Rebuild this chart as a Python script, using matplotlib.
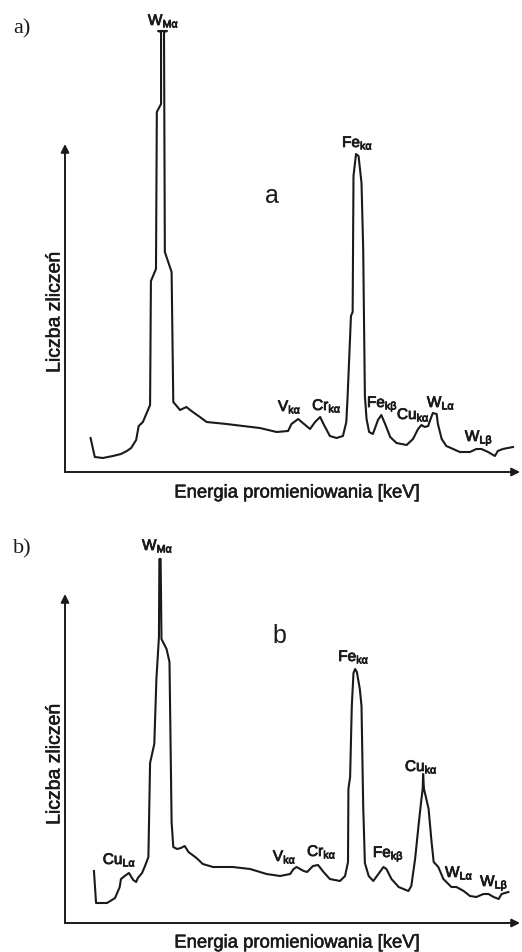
import matplotlib.pyplot as plt
import matplotlib.patheffects as pe

plt.rcParams['font.family'] = ['Liberation Sans', 'DejaVu Sans']
plt.rcParams['mathtext.default'] = 'regular'

# EDS spectra, energy in keV, counts in arbitrary units
energy_a = [0.13, 0.23, 0.42, 0.66, 0.85, 0.99, 1.09, 1.21, 1.27, 1.37, 1.46, 1.54,
            1.56, 1.68, 1.70, 1.80, 1.80, 1.73, 1.94, 1.87, 1.89, 2.05, 2.09, 2.17,
            2.25, 2.40, 2.52, 2.72, 2.88, 3.35, 3.74, 4.14, 4.54, 4.81, 4.89, 5.05,
            5.16, 5.33, 5.45, 5.57, 5.65, 5.80, 5.96, 6.11, 6.19, 6.22, 6.30, 6.34,
            6.36, 6.42, 6.48, 6.55, 6.59, 6.63, 6.67, 6.73, 6.82, 6.94, 7.02, 7.11,
            7.23, 7.38, 7.62, 7.77, 7.89, 7.97, 8.05, 8.13, 8.17, 8.24, 8.33, 8.36,
            8.45, 8.56, 8.72, 8.88, 9.12, 9.27, 9.39, 9.55, 9.71, 9.78, 9.90, 10.14]
counts_a = [34, 15, 14, 16, 18, 21, 24, 32, 46, 50, 59, 67,
            191, 203, 360, 368, 440, 441, 441, 440, 220, 200, 70, 66,
            62, 65, 61, 55, 50, 48, 46, 44, 40, 41, 48, 53,
            49, 43, 50, 55, 48, 36, 34, 36, 50, 75, 156, 160,
            296, 318, 316, 289, 223, 76, 53, 40, 38, 52, 57, 48,
            35, 29, 27, 33, 43, 47, 45, 46, 51, 59, 58, 48,
            33, 26, 23, 20, 20, 23, 23, 20, 16, 21, 23, 25]

energy_b = [0.21, 0.26, 0.52, 0.71, 0.82, 0.85, 0.97, 1.04, 1.14, 1.21, 1.25, 1.35,
            1.42, 1.50, 1.54, 1.64, 1.69, 1.75, 1.76, 1.79, 1.81, 1.93, 2.00, 2.05,
            2.09, 2.18, 2.27, 2.36, 2.45, 2.64, 2.79, 3.03, 3.50, 3.91, 4.30, 4.62,
            4.86, 4.94, 5.01, 5.18, 5.26, 5.40, 5.52, 5.65, 5.80, 6.04, 6.16, 6.23,
            6.24, 6.28, 6.32, 6.36, 6.40, 6.44, 6.51, 6.55, 6.59, 6.63, 6.72, 6.83,
            6.95, 7.07, 7.14, 7.26, 7.43, 7.66, 7.73, 7.82, 7.90, 7.97, 8.00, 8.01,
            8.03, 8.07, 8.14, 8.21, 8.26, 8.37, 8.49, 8.68, 8.80, 8.97, 9.12, 9.27,
            9.44, 9.56, 9.68, 9.80, 9.87, 10.03]
counts_b = [52, 20, 20, 25, 36, 44, 48, 50, 43, 41, 45, 50,
            57, 66, 160, 179, 244, 286, 364, 364, 284, 274, 261, 101,
            76, 74, 75, 77, 71, 65, 59, 56, 56, 54, 49, 47,
            49, 54, 56, 52, 51, 57, 58, 51, 44, 42, 47, 61,
            134, 146, 217, 250, 254, 251, 234, 217, 117, 60, 47, 42,
            49, 56, 54, 44, 36, 32, 37, 64, 97, 124, 134, 149,
            134, 127, 114, 81, 61, 56, 44, 36, 36, 32, 27, 26,
            29, 29, 26, 24, 29, 31]

# line labels: element, subscript, left edge [keV], baseline [counts]
labels_a = [('W', 'Mα', 1.49, 447), ('Fe', 'kα', 6.09, 325),
            ('V', 'kα', 4.57, 61), ('Cr', 'kα', 5.38, 62),
            ('Fe', 'kβ', 6.68, 65), ('Cu', 'kα', 7.39, 53),
            ('W', 'Lα', 8.10, 65), ('W', 'Lβ', 9.00, 31)]
labels_b = [('W', 'Mα', 1.35, 373), ('Fe', 'kα', 6.00, 262),
            ('Cu', 'kα', 7.58, 152), ('Cu', 'Lα', 0.42, 59),
            ('V', 'kα', 4.45, 62), ('Cr', 'kα', 5.26, 67),
            ('Fe', 'kβ', 6.82, 66), ('W', 'Lα', 8.53, 46),
            ('W', 'Lβ', 9.36, 37)]

INK = '#1a1a1a'
W, H = 522, 953
X_MIN, X_MAX, X_ARROW = -0.476, 10.353, 10.306
# slightly heavier strokes, like a printed figure
heavy = [pe.withStroke(linewidth=0.6, foreground=INK)]


def draw_panel(ax, energy, counts, labels, top, tip, tag, tag_pos):
    ax.plot(energy, counts, color=INK, lw=1.5, solid_joinstyle='round', clip_on=False)
    ax.set_xlim(X_MIN, X_MAX)
    ax.set_ylim(0, top)
    ax.axis('off')
    arrow = dict(arrowstyle='-|>', color=INK, lw=1.4, mutation_scale=12,
                 shrinkA=0, shrinkB=0)
    ax.annotate('', xy=(X_ARROW, 0), xytext=(X_MIN, 0), arrowprops=arrow,
                annotation_clip=False)
    ax.annotate('', xy=(X_MIN, tip), xytext=(X_MIN, 0), arrowprops=arrow,
                annotation_clip=False)
    for name, sub, x, y in labels:
        ax.text(x, y, rf'$\mathregular{{{name}_{{{sub}}}}}$', fontsize=11,
                color=INK, ha='left', va='baseline', path_effects=heavy)
    ax.text(tag_pos[0], tag_pos[1], tag, fontsize=18, color=INK,
            ha='left', va='baseline')


fig = plt.figure(figsize=(W / 100, H / 100), dpi=100)

ax_a = fig.add_axes([65 / W, 1 - 473 / H, 457 / W, 463 / H])
draw_panel(ax_a, energy_a, counts_a, labels_a, 463, 328, 'a', (4.27, 270))

ax_b = fig.add_axes([65 / W, 1 - 924 / H, 457 / W, 394 / H])
draw_panel(ax_b, energy_b, counts_b, labels_b, 394, 329, 'b', (4.43, 281))

# panel tags
fig.text(13 / W, 1 - 33 / H, 'a)', fontsize=16, family='Liberation Serif', color=INK)
fig.text(13 / W, 1 - 553 / H, 'b)', fontsize=16, family='Liberation Serif', color=INK)

# axis titles
for y_x, y_y in [(494, 313), (944, 765)]:
    fig.text(297 / W, 1 - y_x / H, 'Energia promieniowania [keV]', fontsize=13.3,
             color=INK, ha='center', va='center',
             path_effects=[pe.withStroke(linewidth=0.4, foreground=INK)])
    fig.text(55 / W, 1 - y_y / H, 'Liczba zliczeń', fontsize=14, rotation=90,
             color=INK, ha='center', va='center',
             path_effects=[pe.withStroke(linewidth=0.4, foreground=INK)])

fig.savefig('out.png', dpi=100)
